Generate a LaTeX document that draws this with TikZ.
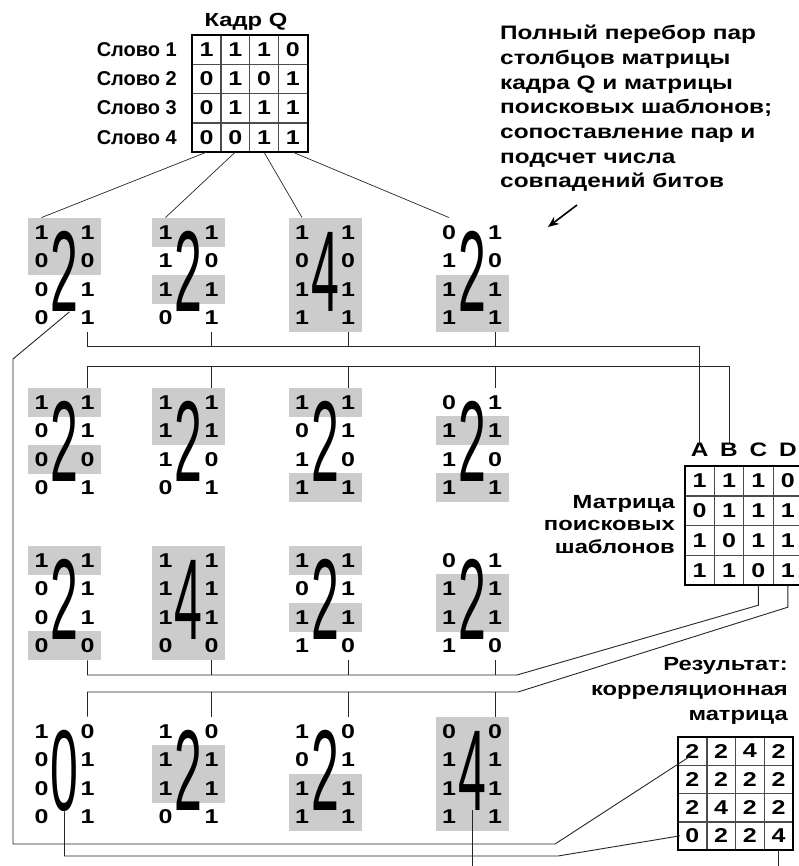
\documentclass[tikz,border=0pt]{standalone}
\usepackage{fontspec}
\setmainfont{Liberation Sans}
\newfontfamily\widesans[FakeStretch=1.25]{Liberation Sans}
\usetikzlibrary{arrows.meta,calc}

\tikzset{
  >={Stealth[length=11pt,width=9pt]},
  bit/.style={font=\widesans\bfseries\fontsize{20}{20}\selectfont, inner sep=0pt,
              minimum height=29pt},
  cell/.style={draw=black!70, line width=0.6pt, minimum width=29pt,
               minimum height=29pt, inner sep=0pt,
               font=\widesans\bfseries\fontsize{20}{20}\selectfont},
  mframe/.style={draw=black, line width=2pt},
  hit/.style={fill=black!20},
  tally/.style={font=\fontsize{50}{50}\selectfont, inner sep=0pt},
  wire/.style={black!85, line width=0.9pt},
  lbl/.style={font=\widesans\bfseries\fontsize{19.5}{24.7}\selectfont, inner sep=0pt},
}

% bits of frame Q, of the search templates and the counts, row by row
\def\qbits{{1,1,1,0, 0,1,0,1, 0,1,1,1, 0,0,1,1}}
\def\tbits{{1,1,1,0, 0,1,1,1, 1,0,1,1, 1,1,0,1}}
\def\cbits{{2,2,4,2, 2,2,2,2, 2,4,2,2, 0,2,2,4}}

\begin{document}
\begin{tikzpicture}[x=1pt,y=-1pt]
  \useasboundingbox (0,0) rectangle (798,866);

  \node[lbl, font=\widesans\bfseries\fontsize{19}{19}\selectfont, anchor=base] (qtitle) at (246,27) {Кадр Q};
  \foreach \r in {1,...,4} {
    \node[lbl, font=\bfseries\fontsize{20}{20}\selectfont, anchor=east] (word-\r)
      at (177,{49.6+29.25*(\r-1)}) {Слово \r};
    \foreach \c in {1,...,4} {
      \pgfmathtruncatemacro\v{\qbits[4*(\r-1)+\c-1]}
      \node[cell] (kq-\r-\c) at ({206.5+28.75*(\c-1)},{49.6+29.25*(\r-1)}) {\v};
    }
  }
  \draw[mframe] (kq-1-1.north west) rectangle (kq-4-4.south east);

  \node[lbl, align=left, anchor=north west] (task) at (500,25)
    {Полный перебор пар\\столбцов матрицы\\кадра Q и матрицы\\поисковых шаблонов;\\сопоставление пар и\\подсчет числа\\совпадений битов};
  \coordinate (aim) at (548,227);
  \draw[->, line width=1.6pt] ([xshift=77pt,yshift=-13pt]task.south west) -- (aim);

  \foreach \c/\l in {1/A,2/B,3/C,4/D}
    \node[lbl] (ts-\l) at ({699.6+29.4*(\c-1)},450) {\l};
  \foreach \r in {1,...,4}
    \foreach \c in {1,...,4} {
      \pgfmathtruncatemacro\v{\tbits[4*(\r-1)+\c-1]}
      \node[cell, minimum width=29.5pt, minimum height=29.5pt] (ts-\r-\c)
        at ({699.6+29.4*(\c-1)},{480.9+29.75*(\r-1)}) {\v};
    }
  \draw[mframe] (ts-1-1.north west) rectangle (ts-4-4.south east);
  \node[lbl, font=\widesans\bfseries\fontsize{19}{22.5}\selectfont, align=right, anchor=north east]
    (tslabel) at (675,495) {Матрица\\поисковых\\шаблонов};

  \node[lbl, font=\widesans\bfseries\fontsize{19}{25}\selectfont, align=right, anchor=north east]
    (crlabel) at (788,657) {Результат:\\корреляционная\\матрица};
  \foreach \r in {1,...,4}
    \foreach \c in {1,...,4} {
      \pgfmathtruncatemacro\v{\cbits[4*(\r-1)+\c-1]}
      \node[cell, minimum width=28.5pt, minimum height=28.5pt] (cr-\r-\c)
        at ({692.4+28.75*(\c-1)},{751.1+28.25*(\r-1)}) {\v};
    }
  \draw[mframe] (cr-1-1.north west) rectangle (cr-4-4.south east);

  \foreach \i/\y in {1/275, 2/445, 3/603, 4/774}
    \foreach \j/\x in {1/64.5, 2/188.5, 3/325, 4/472} {
      \foreach \k in {1,...,4} {
        \pgfmathtruncatemacro\lb{\qbits[4*(\k-1)+\j-1]}
        \pgfmathtruncatemacro\rb{\tbits[4*(\k-1)+\i-1]}
        \pgfmathsetmacro\yk{\y+28.5*(\k-2.5)}
        \ifnum\lb=\rb \fill[hit] (\x-36.5,\yk-14.6) rectangle (\x+36.5,\yk+14.6); \fi
        \node[bit] (pair-\i-\j-l\k) at (\x-23,\yk) {\lb};
        \node[bit] (pair-\i-\j-r\k) at (\x+23,\yk) {\rb};
      }
      \pgfmathtruncatemacro\n{\cbits[4*(\i-1)+\j-1]}
      \node[tally] (pair-\i-\j) at (\x,\y-3.5) {\scalebox{1}[2.3]{\n}};
    }

  \foreach \j in {1,...,4}
    \draw[wire, line width=0.7pt] (kq-4-\j.south) -- (pair-1-\j-l1.north);

  \coordinate (busA) at (0,346);
  \coordinate (busB) at (0,366);
  \coordinate (bendC) at (517,675);
  \coordinate (bendD) at (518,692);
  \coordinate (bottom) at (0,872);

  \draw[wire] (pair-1-1-r4.south) |- (ts-A.north |- busA) -- (ts-A.north);
  \draw[wire] (ts-B.north) -- (ts-B.north |- busB) -| (pair-2-1-r1.north);
  \draw[wire] (ts-4-3.south) -- ++(0,20) -- (bendC) -| (pair-3-1-r4.south);
  \draw[wire] (ts-4-4.south) -- ++(0,22) -- (bendD) -| (pair-4-1-r1.north);
  \foreach \j in {2,3,4} {
    \draw[wire] (pair-1-\j-r4.south) -- (pair-1-\j-r4.south |- busA);
    \draw[wire] (pair-2-\j-r1.north |- busB) -- (pair-2-\j-r1.north);
    \draw[wire] (pair-3-\j-r4.south) -- (pair-3-\j-r4.south |- bendC);
    \draw[wire] (pair-4-\j-r1.north |- bendD) -- (pair-4-\j-r1.north);
  }

  \draw[wire] ([xshift=5pt]pair-1-1.south) -- (13,359) |- (555,844)
    -- ([shift={(-2pt,-5pt)}]cr-1-1.center);
  \draw[wire] (pair-4-1.south) |- (558,856) -- ([xshift=2pt]cr-4-1.west);
  \draw[wire] (pair-4-4.south) -- (pair-4-4.south |- bottom);
  \draw[wire] (cr-4-4.south) -- (cr-4-4.south |- bottom);
\end{tikzpicture}
\end{document}
